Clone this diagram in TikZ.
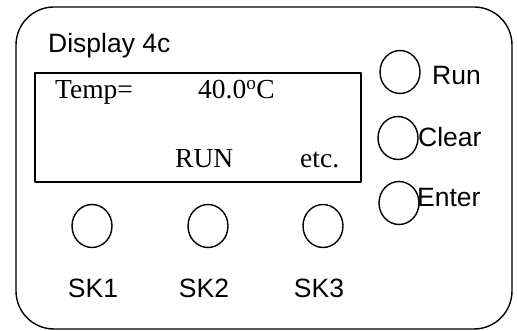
\documentclass[tikz,border=0pt]{standalone}
\usepackage{fontspec}
\setmainfont{Liberation Serif}
\newfontfamily\arial{Liberation Sans}
\usetikzlibrary{shapes.geometric}

\begin{document}
\begin{tikzpicture}[x=1pt, y=-1pt,
                    c/.style={line width=1.4pt, line join=round},
                    btn/.style={c, draw, ellipse, minimum width=40pt, minimum height=43pt, inner sep=0pt},
                    lbl/.style={inner sep=0pt, anchor=base west, font=\arial\fontsize{26.5}{31}\selectfont},
                    lcd/.style={inner sep=0pt, anchor=base west, font=\fontsize{27.5}{32}\selectfont}]
  \useasboundingbox (0,0) rectangle (517,331);
  % housing and screen
  \draw[c, rounded corners=38pt] (16,7) rectangle (512,329);
  \draw[c] (35,73) rectangle (361,182);
  \node[lbl] (title) at (48,53) {Display 4c};
  \node[lcd] (temp) at (55,99) {Temp=};
  \node[lcd] (val) at (198,99) {40.0\textsuperscript{o}C};
  \node[lcd] (mode) at (175,168) {RUN};
  \node[lcd] (etc) at (300,168) {etc.};
  % side keys
  \node[btn] (run) at (400,72) {};
  \node[lbl] (runl) at (432,85) {Run};
  \node[btn] (clear) at (398,138) {};
  \node[lbl] (clearl) at (418,147) {Clear};
  \node[btn] (enter) at (399,203) {};
  \node[lbl] (enterl) at (417,207) {Enter};
  % soft keys
  \foreach \k/\x/\lx in {1/92/93, 2/208/204, 3/323/319} {
    \node[btn] (sk\k) at (\x,226) {};
    \node[lbl, anchor=base] (skl\k) at (\lx,298) {SK\k};
  }
\end{tikzpicture}
\end{document}
